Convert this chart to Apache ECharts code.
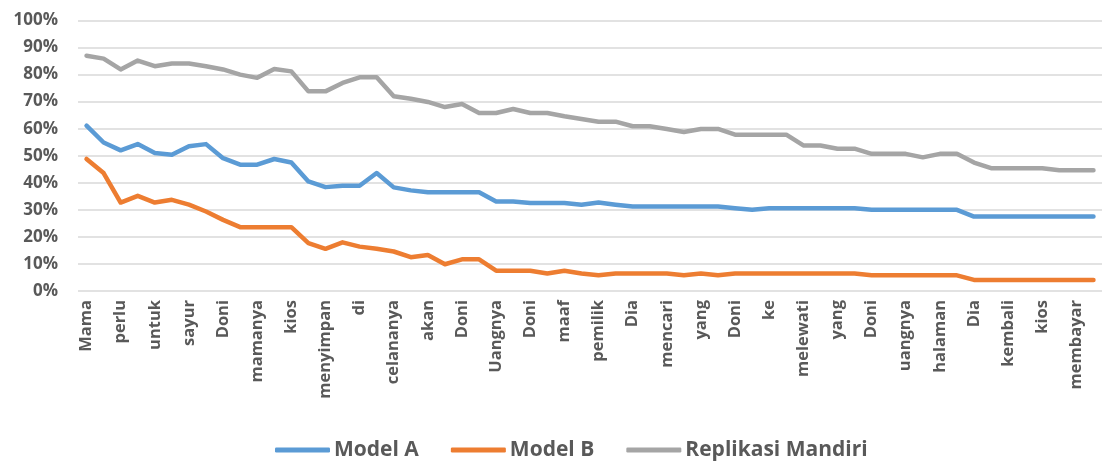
<!DOCTYPE html>
<html>
<head>
<meta charset="utf-8">
<script src="https://cdn.jsdelivr.net/npm/echarts@6/dist/echarts.min.js"></script>
<style>
  html, body { margin: 0; padding: 0; background: #ffffff; }
  #chart { width: 1102px; height: 461px; }
</style>
</head>
<body>
<div id="chart"></div>
<script>
// Words shown along the x axis (every other token carries a label)
const shownWords = [
  'Mama', 'perlu', 'untuk', 'sayur', 'Doni', 'mamanya', 'kios', 'menyimpan', 'di', 'celananya',
  'akan', 'Doni', 'Uangnya', 'Doni', 'maaf', 'pemilik', 'Dia', 'mencari', 'yang', 'Doni',
  'ke', 'melewati', 'yang', 'Doni', 'uangnya', 'halaman', 'Dia', 'kembali', 'kios', 'membayar'
];

// Percentages per token
const modelA = [
  61.1, 54.9, 52.0, 54.3, 51.0, 50.4, 53.5, 54.3, 49.1, 46.7,
  46.7, 48.8, 47.5, 40.5, 38.4, 38.9, 38.9, 43.6, 38.3, 37.2,
  36.5, 36.5, 36.5, 36.5, 33.1, 33.1, 32.5, 32.5, 32.5, 31.9,
  32.7, 31.9, 31.2, 31.2, 31.2, 31.2, 31.2, 31.2, 30.6, 30.0,
  30.6, 30.6, 30.6, 30.6, 30.6, 30.6, 30.0, 30.0, 30.0, 30.0,
  30.0, 30.0, 27.5, 27.5, 27.5, 27.5, 27.5, 27.5, 27.5, 27.5
];
const modelB = [
  48.8, 43.6, 32.7, 35.2, 32.7, 33.7, 31.9, 29.4, 26.3, 23.6,
  23.6, 23.6, 23.6, 17.7, 15.6, 18.0, 16.4, 15.6, 14.6, 12.5,
  13.3, 9.9, 11.7, 11.7, 7.5, 7.5, 7.5, 6.5, 7.5, 6.5,
  5.8, 6.5, 6.5, 6.5, 6.5, 5.8, 6.5, 5.8, 6.5, 6.5,
  6.5, 6.5, 6.5, 6.5, 6.5, 6.5, 5.8, 5.8, 5.8, 5.8,
  5.8, 5.8, 4.1, 4.1, 4.1, 4.1, 4.1, 4.1, 4.1, 4.1
];
const replikasi = [
  87.0, 85.9, 81.9, 85.2, 83.1, 84.1, 84.1, 83.1, 81.9, 80.0,
  78.8, 82.1, 81.2, 73.8, 73.8, 76.9, 79.0, 79.0, 72.0, 71.1,
  69.9, 68.0, 69.1, 65.8, 65.8, 67.3, 65.8, 65.8, 64.6, 63.6,
  62.6, 62.6, 60.9, 60.9, 59.9, 58.8, 59.9, 59.9, 57.8, 57.8,
  57.8, 57.8, 53.8, 53.8, 52.6, 52.6, 50.7, 50.7, 50.7, 49.4,
  50.7, 50.7, 47.5, 45.4, 45.4, 45.4, 45.4, 44.6, 44.6, 44.6
];

const seriesNames = ['Model A', 'Model B', 'Replikasi Mandiri'];
const seriesColors = ['#5B9BD5', '#ED7D31', '#A5A5A5'];

// One category per token; unlabeled tokens sit between the labeled ones
const categories = [];
shownWords.forEach(function (w) { categories.push(w); categories.push(''); });

const textColor = '#595959';
const fontFamily = '"Open Sans", "Noto Sans", sans-serif';

const chart = echarts.init(document.getElementById('chart'), null, { renderer: 'canvas' });

chart.setOption({
  animation: false,
  backgroundColor: '#ffffff',
  grid: { left: 78, right: 0, top: 20.5, bottom: 170, containLabel: false },
  legend: {
    left: 275,
    top: 439.5,
    padding: 0,
    itemWidth: 55,
    itemHeight: 5,
    itemGap: 32,
    icon: 'roundRect',
    textStyle: { color: textColor, fontFamily: fontFamily, fontWeight: 'bold', fontSize: 21, padding: [0, 0, 0, -1] },
    data: seriesNames
  },
  xAxis: {
    type: 'category',
    data: categories,
    boundaryGap: true,
    axisLine: { show: false },
    axisTick: { show: false },
    axisLabel: {
      interval: 0,
      rotate: 90,
      margin: 9,
      color: textColor,
      fontFamily: fontFamily,
      fontWeight: 'bold',
      fontSize: 16.5
    }
  },
  yAxis: {
    type: 'value',
    min: 0,
    max: 100,
    interval: 10,
    axisLine: { show: false },
    axisTick: { show: false },
    axisLabel: {
      formatter: '{value}%',
      margin: 20,
      color: textColor,
      fontFamily: fontFamily,
      fontWeight: 'bold',
      fontSize: 17
    },
    splitLine: { lineStyle: { color: '#D9D9D9', width: 1.5 } }
  },
  series: [modelA, modelB, replikasi].map(function (vals, i) {
    return {
      name: seriesNames[i],
      type: 'line',
      data: vals,
      symbol: 'none',
      smooth: false,
      color: seriesColors[i],
      lineStyle: { width: 4.5, color: seriesColors[i], cap: 'round', join: 'round' }
    };
  })
});
</script>
</body>
</html>
